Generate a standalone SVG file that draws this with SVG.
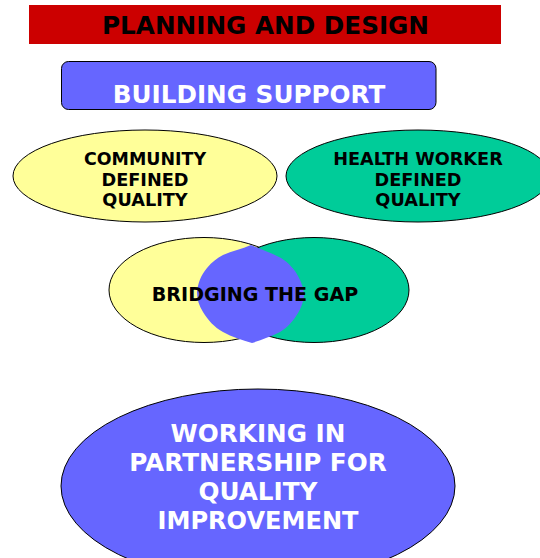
<svg xmlns="http://www.w3.org/2000/svg" width="540" height="558" viewBox="0 0 540 558">
<style>
.o{stroke:#000;stroke-width:1}
.t{font-family:"DejaVu Sans","Liberation Sans",sans-serif;font-weight:bold;text-anchor:middle}
.k{fill:#000}.w{fill:#fff}
.s18{font-size:17.7px}.s24{font-size:24.700px}.s25{font-size:24.700px}
</style>
<rect width="540" height="558" fill="#fff"/>
<g id="title"><rect x="29" y="5" width="472" height="39" fill="#cc0000"/><text class="t k s24" x="265.500" y="34">PLANNING AND DESIGN</text></g>
<g id="building-support"><rect class="o" x="61.500" y="61.500" width="374.500" height="48" rx="7" fill="#6666ff"/><text class="t w s24" x="249" y="103">BUILDING SUPPORT</text></g>
<g id="community-quality"><ellipse class="o" cx="145" cy="176" rx="132" ry="46" fill="#ffff99"/><text class="t k s18" x="145" y="165" textLength="122" lengthAdjust="spacingAndGlyphs">COMMUNITY</text><text class="t k s18" x="145" y="186">DEFINED</text><text class="t k s18" x="145" y="206">QUALITY</text></g>
<g id="health-worker-quality"><ellipse class="o" cx="418" cy="176" rx="132" ry="46" fill="#00cc99"/><text class="t k s18" x="418" y="165">HEALTH WORKER</text><text class="t k s18" x="418" y="186">DEFINED</text><text class="t k s18" x="418" y="206">QUALITY</text></g>
<g id="bridging-the-gap"><ellipse class="o" cx="204" cy="290" rx="95" ry="52.500" fill="#ffff99"/><ellipse class="o" cx="314" cy="290" rx="95" ry="52.500" fill="#00cc99"/><path d="M251 245C262 250 272 253 281 258C289 263 295 270 298 276C302 283 304 290 304 296C303 303 301 308 298 313C294 320 288 327 280 332C270 337 261 340 252 343C242 340 232 337 223 332C214 327 208 320 203 312C199 306 197 299 197 292C198 283 201 275 207 268C212 262 217 258 223 255C232 251 242 249 251 245Z" fill="#6666ff"/><text class="t k" style="font-size:19.100px" x="255" y="301">BRIDGING THE GAP</text></g>
<g id="partnership"><ellipse class="o" cx="258" cy="486" rx="197" ry="97" fill="#6666ff"/><text class="t w s25" x="258" y="442">WORKING IN</text><text class="t w s25" x="258" y="471">PARTNERSHIP FOR</text><text class="t w s25" x="258" y="500">QUALITY</text><text class="t w s25" x="258" y="529" textLength="201" lengthAdjust="spacingAndGlyphs">IMPROVEMENT</text></g>
<g id="connectors"></g>
</svg>
